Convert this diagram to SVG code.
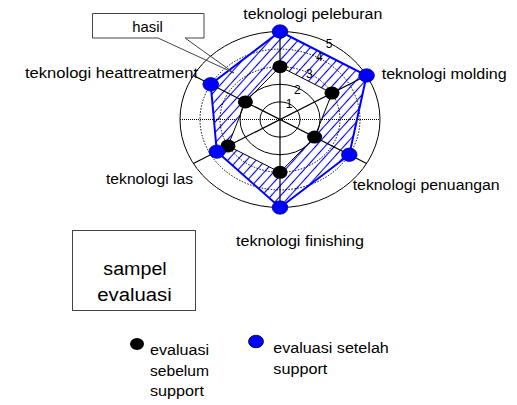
<svg xmlns="http://www.w3.org/2000/svg" width="517" height="405" viewBox="0 0 517 405">
  <style>
    .lbl { font-family: "Liberation Sans", Arial, sans-serif; font-size: 14px; fill: #000; }
    .tick { font-family: "Liberation Sans", Arial, sans-serif; font-size: 12px; fill: #000; text-anchor: middle; }
    .ring { fill: none; stroke: #000; stroke-width: 1; }
    .ring-dot { fill: none; stroke: #000; stroke-width: 1; stroke-dasharray: 1.5 1.5; }
    .axis { stroke: #000; stroke-width: 1.2; }
    .dot-before { fill: #000; }
    .dot-after { fill: #0000ff; stroke: #00008b; stroke-width: 0.8; }
    .box { fill: #fff; stroke: #444; stroke-width: 1; }
  </style>
  <defs>
    <pattern id="hatch" width="7" height="7" patternUnits="userSpaceOnUse" patternTransform="rotate(-48)">
      <line x1="-1" y1="3.5" x2="8" y2="3.5" stroke="#0000ff" stroke-width="1.1"/>
    </pattern>
  </defs>

  <rect width="517" height="405" fill="#fff"/>

  <!-- area fills: "after" series hatched, "before" series white -->
  <g id="fills">
    <polygon points="280,31.5 366.6,75.5 349.3,154.7 280,207.5 216.8,151.6 210.7,84.3" fill="url(#hatch)"/>
    <polygon points="280,66.7 332,93.1 314.6,137.1 280,172.3 228,145.9 245.4,101.9" fill="#fff"/>
  </g>

  <!-- radar grid -->
  <g id="grid">
    <ellipse class="ring" cx="280" cy="119.5" rx="20" ry="17.6"/>
    <ellipse class="ring" cx="280" cy="119.5" rx="40" ry="35.2"/>
    <ellipse class="ring-dot" cx="280" cy="119.5" rx="60" ry="52.8"/>
    <ellipse class="ring-dot" cx="280" cy="119.5" rx="80" ry="70.4"/>
    <ellipse class="ring" cx="280" cy="119.5" rx="100" ry="88"/>
    <line x1="180" y1="119.5" x2="380" y2="119.5" stroke="#000" stroke-width="1" stroke-dasharray="1 1"/>
    <line class="axis" x1="280" y1="31.5" x2="280" y2="207.5"/>
    <line class="axis" x1="193.4" y1="75.5" x2="366.6" y2="163.5"/>
    <line class="axis" x1="366.6" y1="75.5" x2="193.4" y2="163.5"/>
  </g>

  <!-- connectors: series outlines -->
  <g id="connectors">
    <polygon points="280,31.5 366.6,75.5 349.3,154.7 280,207.5 216.8,151.6 210.7,84.3" fill="none" stroke="#0000ff" stroke-width="2"/>
    <polygon points="280,66.7 332,93.1 314.6,137.1 280,172.3 228,145.9 245.4,101.9" fill="none" stroke="#000" stroke-width="1"/>
  </g>

  <!-- scale numbers -->
  <g id="scale">
    <text class="tick" x="289" y="107.5">1</text>
    <text class="tick" x="297.3" y="94">2</text>
    <text class="tick" x="309.3" y="77.5">3</text>
    <text class="tick" x="319.3" y="61">4</text>
    <text class="tick" x="329" y="48">5</text>
  </g>

  <!-- data markers -->
  <g id="markers-before">
    <ellipse class="dot-before" cx="280" cy="66.7" rx="7.5" ry="6.5"/>
    <ellipse class="dot-before" cx="332" cy="93.1" rx="7.5" ry="6.5"/>
    <ellipse class="dot-before" cx="314.6" cy="137.1" rx="7.5" ry="6.5"/>
    <ellipse class="dot-before" cx="280" cy="172.3" rx="7.5" ry="6.5"/>
    <ellipse class="dot-before" cx="228" cy="145.9" rx="7.5" ry="6.5"/>
    <ellipse class="dot-before" cx="245.4" cy="101.9" rx="7.5" ry="6.5"/>
  </g>
  <g id="markers-after">
    <ellipse class="dot-after" cx="280" cy="31.5" rx="7.8" ry="6.7"/>
    <ellipse class="dot-after" cx="366.6" cy="75.5" rx="7.8" ry="6.7"/>
    <ellipse class="dot-after" cx="349.3" cy="154.7" rx="7.8" ry="6.7"/>
    <ellipse class="dot-after" cx="280" cy="207.5" rx="7.8" ry="6.7"/>
    <ellipse class="dot-after" cx="216.8" cy="151.6" rx="7.8" ry="6.7"/>
    <ellipse class="dot-after" cx="210.7" cy="84.3" rx="7.8" ry="6.7"/>
  </g>

  <!-- axis labels -->
  <g id="node-peleburan"><text class="lbl" x="243.3" y="18.5" textLength="139" lengthAdjust="spacingAndGlyphs">teknologi peleburan</text></g>
  <g id="node-molding"><text class="lbl" x="381.7" y="78.5" textLength="125" lengthAdjust="spacingAndGlyphs">teknologi molding</text></g>
  <g id="node-penuangan"><text class="lbl" x="352.7" y="190" textLength="147" lengthAdjust="spacingAndGlyphs">teknologi penuangan</text></g>
  <g id="node-finishing"><text class="lbl" x="236" y="246" textLength="128" lengthAdjust="spacingAndGlyphs">teknologi finishing</text></g>
  <g id="node-las"><text class="lbl" x="106" y="183.5" textLength="87" lengthAdjust="spacingAndGlyphs">teknologi las</text></g>
  <g id="node-heattreatment"><text class="lbl" x="25" y="78" textLength="173" lengthAdjust="spacingAndGlyphs">teknologi heattreatment</text></g>

  <!-- callout -->
  <g id="node-hasil">
    <rect x="92.5" y="13.5" width="111.5" height="24.5" fill="#fff"/>
    <path d="M92.5,13.5 H204 V38 H185 L234,73 L158,38 H92.5 Z" fill="none" stroke="#444" stroke-width="1"/>
    <text class="lbl" x="132.3" y="31.5" style="font-size:15px" textLength="30.5" lengthAdjust="spacingAndGlyphs">hasil</text>
  </g>

  <!-- sample box -->
  <g id="node-sampel">
    <rect class="box" x="72.5" y="230.5" width="123" height="80"/>
    <text class="lbl" x="103.3" y="275" style="font-size:18px" textLength="63.4" lengthAdjust="spacingAndGlyphs">sampel</text>
    <text class="lbl" x="97.3" y="300.5" style="font-size:18px" textLength="74.4" lengthAdjust="spacingAndGlyphs">evaluasi</text>
  </g>

  <!-- legend -->
  <g id="legend-before">
    <ellipse cx="137" cy="344" rx="7" ry="6" fill="#000"/>
    <text class="lbl" x="150" y="355" textLength="59" lengthAdjust="spacingAndGlyphs">evaluasi</text>
    <text class="lbl" x="150" y="375.5" textLength="59" lengthAdjust="spacingAndGlyphs">sebelum</text>
    <text class="lbl" x="150" y="396" textLength="54" lengthAdjust="spacingAndGlyphs">support</text>
  </g>
  <g id="legend-after">
    <ellipse cx="256" cy="341.5" rx="7.5" ry="6.3" fill="#0000ff" stroke="#000" stroke-width="0.8"/>
    <text class="lbl" x="273.3" y="352.5" textLength="115.5" lengthAdjust="spacingAndGlyphs">evaluasi setelah</text>
    <text class="lbl" x="273.3" y="374" textLength="54" lengthAdjust="spacingAndGlyphs">support</text>
  </g>
</svg>
